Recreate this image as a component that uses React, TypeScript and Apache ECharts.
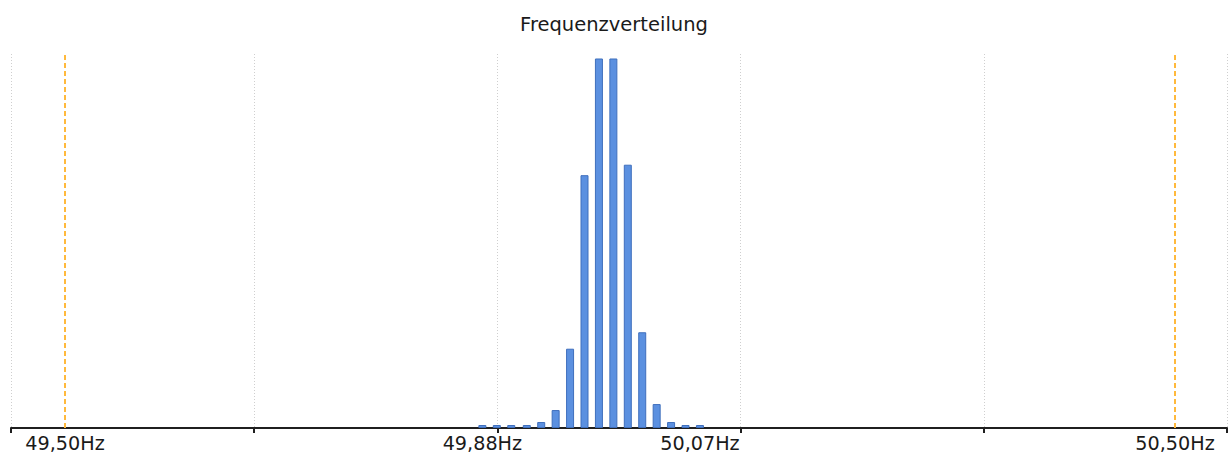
import React, { useEffect, useRef } from "react";
import * as echarts from "echarts";

// Frequency bins (bin centre, Hz) and their share of all measurements (%)
const binCenters = [
  49.876, 49.889, 49.902, 49.916, 49.929, 49.942, 49.955, 49.968,
  49.981, 49.994, 50.007, 50.020, 50.033, 50.046, 50.059, 50.072,
];
const binShares = [
  0.2, 0.2, 0.2, 0.2, 0.4, 1.2, 5.3, 16.9,
  24.7, 24.7, 17.6, 6.4, 1.6, 0.4, 0.2, 0.2,
];

// Tolerance band limits (Hz)
const limitLow = 49.5;
const limitHigh = 50.5;
// Lowest / highest measured frequency
const measuredMin = 49.876;
const measuredMax = 50.072;
// Labelled positions on the frequency axis
const axisLabelValues = [limitLow, measuredMin, measuredMax, limitHigh];

const axisMin = 49.45135;
const axisMax = 50.5468;

const FONT = "DejaVu Sans";

export default function App() {
  const ref = useRef<HTMLDivElement>(null);

  useEffect(() => {
    if (!ref.current) return;
    const chart = echarts.init(ref.current, undefined, { renderer: "svg" });
    chart.setOption({
      animation: false,
      backgroundColor: "#ffffff",
      title: {
        text: "Frequenzverteilung",
        left: "center",
        top: 9,
        textStyle: {
          fontFamily: FONT,
          fontSize: 19.5,
          fontWeight: "normal",
          color: "#1a1a1a",
        },
      },
      grid: { left: 11, right: 1, top: 54, bottom: 33 },
      xAxis: [
        {
          type: "value",
          min: axisMin,
          max: axisMax,
          axisLine: { show: false },
          axisTick: { show: false },
          splitLine: { show: false },
          axisLabel: {
            customValues: axisLabelValues,
            formatter: (v: number) => v.toFixed(2).replace(".", ",") + "Hz",
            fontFamily: FONT,
            fontSize: 19.2,
            color: "#1a1a1a",
            margin: 6,
          },
        },
        {
          // Five equal divisions for grid lines and ticks
          type: "value",
          min: 0,
          max: 5,
          interval: 1,
          position: "bottom",
          axisLine: { show: true, lineStyle: { color: "#1f1f1f", width: 2 } },
          axisTick: { show: true, length: 5, lineStyle: { color: "#1f1f1f", width: 2 } },
          axisLabel: { show: false },
          splitLine: {
            show: true,
            lineStyle: { color: "#cfcfcf", type: [1, 2], width: 1 },
          },
        },
      ],
      yAxis: { type: "value", min: 0, max: 25, show: false },
      series: [
        {
          type: "bar",
          xAxisIndex: 0,
          barWidth: 8,
          data: binCenters.map((f, i) => [f, binShares[i]]),
          itemStyle: {
            color: "#5b90e0",
            borderColor: "#3f6fbd",
            borderWidth: 1,
          },
          markLine: {
            silent: true,
            symbol: "none",
            label: { show: false },
            lineStyle: { color: "#ffb93d", width: 2, type: [5, 3] },
            data: [{ xAxis: limitLow }, { xAxis: limitHigh }],
          },
        },
      ],
    });
    return () => chart.dispose();
  }, []);

  return (
    <div
      ref={ref}
      style={{ position: "fixed", left: 0, top: 0, width: 1228, height: 461 }}
    />
  );
}
